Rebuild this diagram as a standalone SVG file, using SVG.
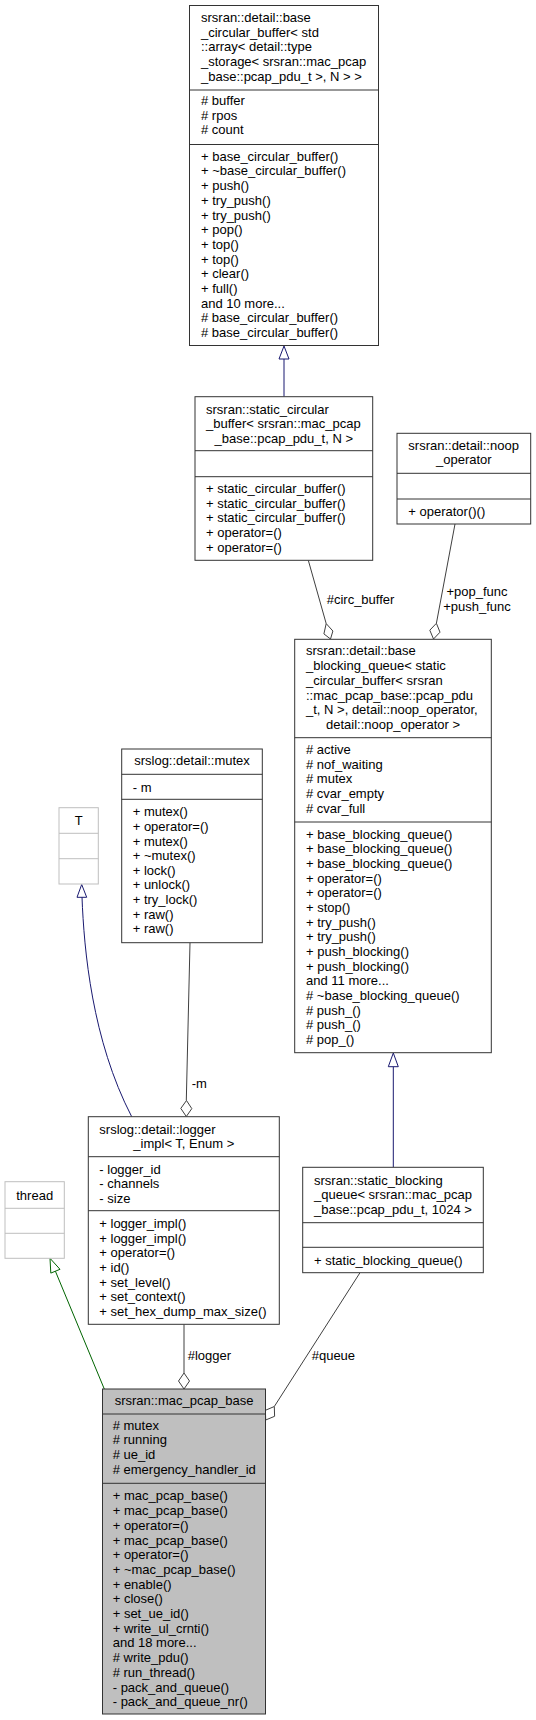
<svg xmlns="http://www.w3.org/2000/svg" width="536" height="1720" viewBox="0 0 536 1720">
<style>
text{font-family:"Liberation Sans",Arial,sans-serif;font-size:13px;fill:#000}
.c{text-anchor:middle}
.box{fill:#fff;stroke:#333;stroke-width:1}
.gbox{fill:#fff;stroke:#bfbfbf;stroke-width:1}
.sep{stroke:#333;stroke-width:1}
.gsep{stroke:#bfbfbf;stroke-width:1}
.inh{fill:none;stroke:#191970;stroke-width:1}
.inhg{fill:none;stroke:#006400;stroke-width:1}
.tri{fill:#fff;stroke:#191970;stroke-width:1}
.trig{fill:#fff;stroke:#006400;stroke-width:1}
.use{fill:none;stroke:#404040;stroke-width:1}
.dia{fill:#fff;stroke:#404040;stroke-width:1}
</style>
<rect width="536" height="1720" fill="#fff"/>
<g id="connectors">
<path class="inh" d="M284,359 L284,396.7"/>
<polygon class="tri" points="284,346 279,359 289,359"/>
<path class="use" d="M308.3,560.3 L326.2,623.6"/>
<polygon class="dia" points="330.5,639 332.9,631 326.2,623.6 323.9,633.9"/>
<text x="326.7" y="603.7">#circ_buffer</text>
<path class="use" d="M455,524 L436.4,623.3"/>
<polygon class="dia" points="433.5,639 440,632.2 436.4,623.3 429.8,630.2"/>
<text class="c" x="477" y="596.4">+pop_func</text>
<text class="c" x="477" y="611.1">+push_func</text>
<path class="inh" d="M393.3,1066.7 L393.3,1167.3"/>
<polygon class="tri" points="393.3,1053 388.3,1066.7 398.3,1066.7"/>
<path class="inh" d="M82,897 C84,950 92,1040 131.7,1116.7"/>
<polygon class="tri" points="81.7,884.5 77,897.3 86.7,897.3"/>
<path class="use" d="M190,942.7 L186.3,1100.5"/>
<polygon class="dia" points="186.3,1116.5 191.8,1108.6 186.5,1100.5 180.8,1108.4"/>
<text x="191.7" y="1087.7">-m</text>
<path class="inhg" d="M55.4,1271.2 L104.3,1389"/>
<polygon class="trig" points="50,1258.3 60,1269.3 50.8,1273.1"/>
<path class="use" d="M184,1324.3 L184,1373"/>
<polygon class="dia" points="184,1389 189.5,1381 184,1373 178.5,1381"/>
<text x="187.7" y="1359.7">#logger</text>
<path class="use" d="M360,1272.7 L274.3,1406.5"/>
<polygon class="dia" points="265.7,1420 274.6,1416.3 274.3,1406.5 265.4,1410.3"/>
<text x="311.7" y="1359.7">#queue</text>
</g>
<g id="base_circular_buffer">
<rect class="box" x="189.5" y="5.5" width="189" height="340"/>
<text x="201" y="22">srsran::detail::base</text>
<text x="201" y="36.7">_circular_buffer&lt; std</text>
<text x="201" y="51.4">::array&lt; detail::type</text>
<text x="201" y="66.1">_storage&lt; srsran::mac_pcap</text>
<text x="201" y="80.8">_base::pcap_pdu_t &gt;, N &gt; &gt;</text>
<line class="sep" x1="189.5" y1="90" x2="378.5" y2="90"/>
<text x="201" y="105"># buffer</text>
<text x="201" y="119.5"># rpos</text>
<text x="201" y="134"># count</text>
<line class="sep" x1="189.5" y1="144.5" x2="378.5" y2="144.5"/>
<text x="201" y="160.7">+ base_circular_buffer()</text>
<text x="201" y="175.4">+ ~base_circular_buffer()</text>
<text x="201" y="190.1">+ push()</text>
<text x="201" y="204.8">+ try_push()</text>
<text x="201" y="219.5">+ try_push()</text>
<text x="201" y="234.2">+ pop()</text>
<text x="201" y="248.9">+ top()</text>
<text x="201" y="263.6">+ top()</text>
<text x="201" y="278.3">+ clear()</text>
<text x="201" y="293">+ full()</text>
<text x="201" y="307.7">and 10 more...</text>
<text x="201" y="322.4">&#35; base_circular_buffer()</text>
<text x="201" y="337.1"># base_circular_buffer()</text>
</g>
<g id="static_circular_buffer">
<rect class="box" x="195" y="396.7" width="177.7" height="163.6"/>
<text x="206" y="413.7">srsran::static_circular</text>
<text x="206" y="428.4">_buffer&lt; srsran::mac_pcap</text>
<text class="c" x="283.8" y="443.1">_base::pcap_pdu_t, N &gt;</text>
<line class="sep" x1="195" y1="450.7" x2="372.7" y2="450.7"/>
<line class="sep" x1="195" y1="476.7" x2="372.7" y2="476.7"/>
<text x="206" y="493">+ static_circular_buffer()</text>
<text x="206" y="507.7">+ static_circular_buffer()</text>
<text x="206" y="522.4">+ static_circular_buffer()</text>
<text x="206" y="537.1">+ operator=()</text>
<text x="206" y="551.8">+ operator=()</text>
</g>
<g id="noop_operator">
<rect class="box" x="397" y="433.3" width="133.7" height="90.7"/>
<text x="408.3" y="449.7">srsran::detail::noop</text>
<text class="c" x="463.8" y="464.3">_operator</text>
<line class="sep" x1="397" y1="473.3" x2="530.7" y2="473.3"/>
<line class="sep" x1="397" y1="499" x2="530.7" y2="499"/>
<text x="408.3" y="515.7">+ operator()()</text>
</g>
<g id="base_blocking_queue">
<rect class="box" x="294.7" y="639.3" width="196.6" height="413.4"/>
<text x="306" y="655.4">srsran::detail::base</text>
<text x="306" y="670.1">_blocking_queue&lt; static</text>
<text x="306" y="684.8">_circular_buffer&lt; srsran</text>
<text x="306" y="699.5">::mac_pcap_base::pcap_pdu</text>
<text x="306" y="714.2">_t, N &gt;, detail::noop_operator,</text>
<text class="c" x="393" y="728.9">detail::noop_operator &gt;</text>
<line class="sep" x1="294.7" y1="737.7" x2="491.3" y2="737.7"/>
<text x="306" y="754">&#35; active</text>
<text x="306" y="768.7"># nof_waiting</text>
<text x="306" y="783.4"># mutex</text>
<text x="306" y="798.1"># cvar_empty</text>
<text x="306" y="812.8"># cvar_full</text>
<line class="sep" x1="294.7" y1="822" x2="491.3" y2="822"/>
<text x="306" y="838.7">+ base_blocking_queue()</text>
<text x="306" y="853.35">+ base_blocking_queue()</text>
<text x="306" y="868">+ base_blocking_queue()</text>
<text x="306" y="882.65">+ operator=()</text>
<text x="306" y="897.3">+ operator=()</text>
<text x="306" y="911.95">+ stop()</text>
<text x="306" y="926.6">+ try_push()</text>
<text x="306" y="941.25">+ try_push()</text>
<text x="306" y="955.9">+ push_blocking()</text>
<text x="306" y="970.55">+ push_blocking()</text>
<text x="306" y="985.2">and 11 more...</text>
<text x="306" y="999.85"># ~base_blocking_queue()</text>
<text x="306" y="1014.5"># push_()</text>
<text x="306" y="1029.15"># push_()</text>
<text x="306" y="1043.8"># pop_()</text>
</g>
<g id="mutex">
<rect class="box" x="121.7" y="749" width="140.6" height="193.7"/>
<text class="c" x="192" y="765.4">srslog::detail::mutex</text>
<line class="sep" x1="121.7" y1="774.3" x2="262.3" y2="774.3"/>
<text x="132.7" y="792">- m</text>
<line class="sep" x1="121.7" y1="799.3" x2="262.3" y2="799.3"/>
<text x="132.7" y="816.4">+ mutex()</text>
<text x="132.7" y="831">+ operator=()</text>
<text x="132.7" y="845.6">+ mutex()</text>
<text x="132.7" y="860.2">+ ~mutex()</text>
<text x="132.7" y="874.8">+ lock()</text>
<text x="132.7" y="889.4">+ unlock()</text>
<text x="132.7" y="904">+ try_lock()</text>
<text x="132.7" y="918.6">+ raw()</text>
<text x="132.7" y="933.2">+ raw()</text>
</g>
<g id="T">
<rect class="gbox" x="59" y="807.7" width="39.3" height="76.3"/>
<text class="c" x="78.7" y="824.7">T</text>
<line class="gsep" x1="59" y1="833.3" x2="98.3" y2="833.3"/>
<line class="gsep" x1="59" y1="858.7" x2="98.3" y2="858.7"/>
</g>
<g id="logger_impl">
<rect class="box" x="88.3" y="1116.7" width="191" height="207.6"/>
<text x="99.3" y="1133.7">srslog::detail::logger</text>
<text class="c" x="183.8" y="1148.4">_impl&lt; T, Enum &gt;</text>
<line class="sep" x1="88.3" y1="1156.7" x2="279.3" y2="1156.7"/>
<text x="99.3" y="1173.7">- logger_id</text>
<text x="99.3" y="1188.4">- channels</text>
<text x="99.3" y="1203.1">- size</text>
<line class="sep" x1="88.3" y1="1210.7" x2="279.3" y2="1210.7"/>
<text x="99.3" y="1228">+ logger_impl()</text>
<text x="99.3" y="1242.65">+ logger_impl()</text>
<text x="99.3" y="1257.3">+ operator=()</text>
<text x="99.3" y="1271.95">+ id()</text>
<text x="99.3" y="1286.6">+ set_level()</text>
<text x="99.3" y="1301.25">+ set_context()</text>
<text x="99.3" y="1315.9">+ set_hex_dump_max_size()</text>
</g>
<g id="thread">
<rect class="gbox" x="5" y="1181.7" width="59.3" height="76.6"/>
<text class="c" x="34.7" y="1199.7">thread</text>
<line class="gsep" x1="5" y1="1208.3" x2="64.3" y2="1208.3"/>
<line class="gsep" x1="5" y1="1233.3" x2="64.3" y2="1233.3"/>
</g>
<g id="static_blocking_queue">
<rect class="box" x="302.7" y="1167.3" width="180.6" height="105.4"/>
<text x="314" y="1184.7">srsran::static_blocking</text>
<text x="314" y="1199.4">_queue&lt; srsran::mac_pcap</text>
<text class="c" x="393" y="1214.1">_base::pcap_pdu_t, 1024 &gt;</text>
<line class="sep" x1="302.7" y1="1222.7" x2="483.3" y2="1222.7"/>
<line class="sep" x1="302.7" y1="1247.3" x2="483.3" y2="1247.3"/>
<text x="314" y="1265.4">+ static_blocking_queue()</text>
</g>
<g id="mac_pcap_base">
<rect x="102.5" y="1389" width="163" height="325" fill="#bfbfbf" stroke="#333"/>
<text class="c" x="184" y="1405.4">srsran::mac_pcap_base</text>
<line class="sep" x1="102.5" y1="1414" x2="265.5" y2="1414"/>
<text x="112.7" y="1429.7"># mutex</text>
<text x="112.7" y="1444.4"># running</text>
<text x="112.7" y="1459.1"># ue_id</text>
<text x="112.7" y="1473.8"># emergency_handler_id</text>
<line class="sep" x1="102.5" y1="1483.3" x2="265.5" y2="1483.3"/>
<text x="112.7" y="1500.4">+ mac_pcap_base()</text>
<text x="112.7" y="1515.1">+ mac_pcap_base()</text>
<text x="112.7" y="1529.8">+ operator=()</text>
<text x="112.7" y="1544.5">+ mac_pcap_base()</text>
<text x="112.7" y="1559.2">+ operator=()</text>
<text x="112.7" y="1573.9">+ ~mac_pcap_base()</text>
<text x="112.7" y="1588.6">+ enable()</text>
<text x="112.7" y="1603.3">+ close()</text>
<text x="112.7" y="1618">+ set_ue_id()</text>
<text x="112.7" y="1632.7">+ write_ul_crnti()</text>
<text x="112.7" y="1647.4">and 18 more...</text>
<text x="112.7" y="1662.1"># write_pdu()</text>
<text x="112.7" y="1676.8"># run_thread()</text>
<text x="112.7" y="1691.5">- pack_and_queue()</text>
<text x="112.7" y="1706.2">- pack_and_queue_nr()</text>
</g>
</svg>
